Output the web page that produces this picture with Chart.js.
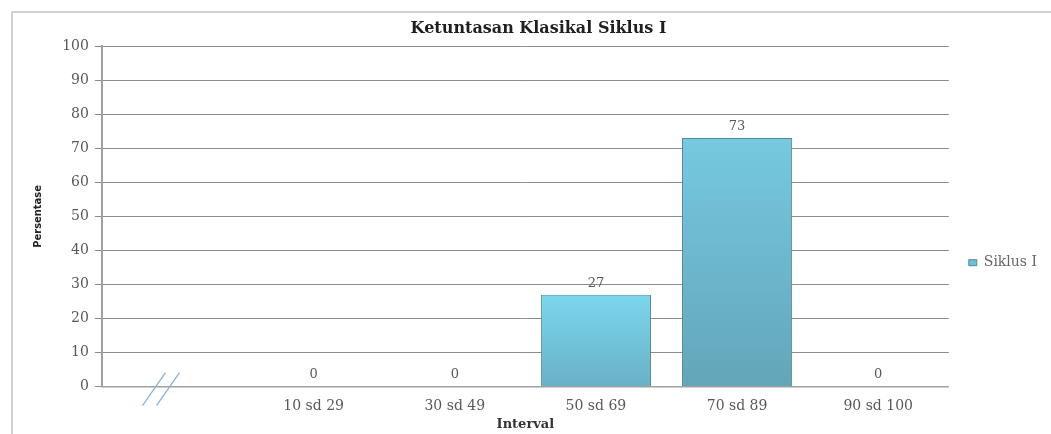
<!DOCTYPE html>
<html>
<head>
<meta charset="utf-8">
<script src="https://cdn.jsdelivr.net/npm/chart.js@4"></script>
<style>
  body { margin: 0; background: #fff; }
  #wrap { width: 1051px; height: 434px; }
</style>
</head>
<body>
<div id="wrap"><canvas id="chart"></canvas></div>
<script>
const intervals = ["", "10 sd 29", "30 sd 49", "50 sd 69", "70 sd 89", "90 sd 100"];
const siklusI = [null, 0, 0, 27, 73, 0];
const yTicks = [0, 10, 20, 30, 40, 50, 60, 70, 80, 90, 100];

const serif = "'DejaVu Serif', 'Liberation Serif', serif";

function barGradient(ctx) {
  const chart = ctx.chart;
  if (!chart.chartArea || ctx.type !== "data") return "#72c6de";
  const v = ctx.raw || 0;
  const y = chart.scales.y;
  const top = y.getPixelForValue(v);
  const bottom = y.getPixelForValue(0);
  const g = chart.ctx.createLinearGradient(0, top, 0, bottom + 1);
  if (ctx.dataIndex === 4) {
    g.addColorStop(0, "#76c9e0");
    g.addColorStop(1, "#63a5b9");
  } else {
    g.addColorStop(0, "#7bd7ee");
    g.addColorStop(1, "#68b0c5");
  }
  return g;
}

// value labels above the bars
const valueLabels = {
  id: "valueLabels",
  afterDatasetsDraw(chart) {
    const c = chart.ctx;
    const meta = chart.getDatasetMeta(0);
    c.save();
    c.font = "13px " + serif;
    c.fillStyle = "#595959";
    c.textAlign = "center";
    c.textBaseline = "bottom";
    meta.data.forEach((bar, i) => {
      if (siklusI[i] === null) return;
      c.fillText(String(siklusI[i]), bar.x, bar.y - 5);
    });
    c.restore();
  },
};

// axis break mark on the empty first category, and the page frame
const decor = {
  id: "decor",
  afterDraw(chart) {
    const c = chart.ctx;
    const x0 = chart.scales.x.getPixelForValue(0);
    const y0 = chart.scales.y.getPixelForValue(0);
    c.save();
    c.strokeStyle = "#8fb1da";
    c.lineWidth = 1.3;
    [-30, -16].forEach((dx) => {
      c.beginPath();
      c.moveTo(x0 + dx, y0 + 19);
      c.lineTo(x0 + dx + 23, y0 - 14);
      c.stroke();
    });
    c.strokeStyle = "#c3c3c3";
    c.lineWidth = 1.5;
    c.beginPath();
    c.moveTo(12, 434);
    c.lineTo(12, 12);
    c.lineTo(1051, 12);
    c.stroke();
    c.restore();
  },
};

new Chart(document.getElementById("chart"), {
  type: "bar",
  data: {
    labels: intervals,
    datasets: [
      {
        label: "Siklus I",
        data: siklusI,
        backgroundColor: barGradient,
        borderColor: "#52899a",
        borderWidth: 1,
        barPercentage: 0.78,
        categoryPercentage: 1,
      },
    ],
  },
  options: {
    responsive: true,
    maintainAspectRatio: false,
    animation: false,
    layout: { padding: { left: 30, right: 4, top: 19, bottom: 2 } },
    plugins: {
      title: {
        display: true,
        text: "Ketuntasan Klasikal Siklus I",
        color: "#1f1f1f",
        font: { family: serif, size: 16, weight: "bold" },
        padding: { top: 0, bottom: 8 },
      },
      legend: {
        position: "right",
        title: { display: true, text: " ", font: { size: 12 }, padding: 30 },
        labels: {
          color: "#404040",
          font: { family: serif, size: 14 },
          boxWidth: 8,
          boxHeight: 6,
          padding: 20,
          generateLabels: (chart) => [
            {
              text: "Siklus I",
              fillStyle: "#6fc0d8",
              strokeStyle: "#52899a",
              lineWidth: 1,
              datasetIndex: 0,
            },
          ],
        },
      },
      tooltip: { enabled: false },
    },
    scales: {
      x: {
        grid: { display: false },
        border: { color: "#a0a0a0", width: 1.5 },
        ticks: { color: "#595959", font: { family: serif, size: 14 }, padding: 3 },
        title: {
          display: true,
          text: "Interval",
          color: "#333",
          font: { family: serif, size: 13, weight: "bold" },
          padding: { top: -1, bottom: 0 },
        },
      },
      y: {
        min: 0,
        max: 100,
        afterBuildTicks: (axis) => {
          axis.ticks = yTicks.map((v) => ({ value: v }));
        },
        grid: { color: "#8c8c8c", tickColor: "#8c8c8c", tickLength: 7 },
        border: { color: "#a0a0a0", width: 2 },
        ticks: { color: "#595959", font: { family: serif, size: 14 }, padding: 6 },
        title: {
          display: true,
          text: "Persentase",
          color: "#222",
          font: { family: "'DejaVu Sans Condensed', 'Liberation Sans Narrow', sans-serif", size: 11, weight: "bold" },
          padding: { top: 2, bottom: 11 },
        },
      },
    },
  },
  plugins: [valueLabels, decor],
});
</script>
</body>
</html>
